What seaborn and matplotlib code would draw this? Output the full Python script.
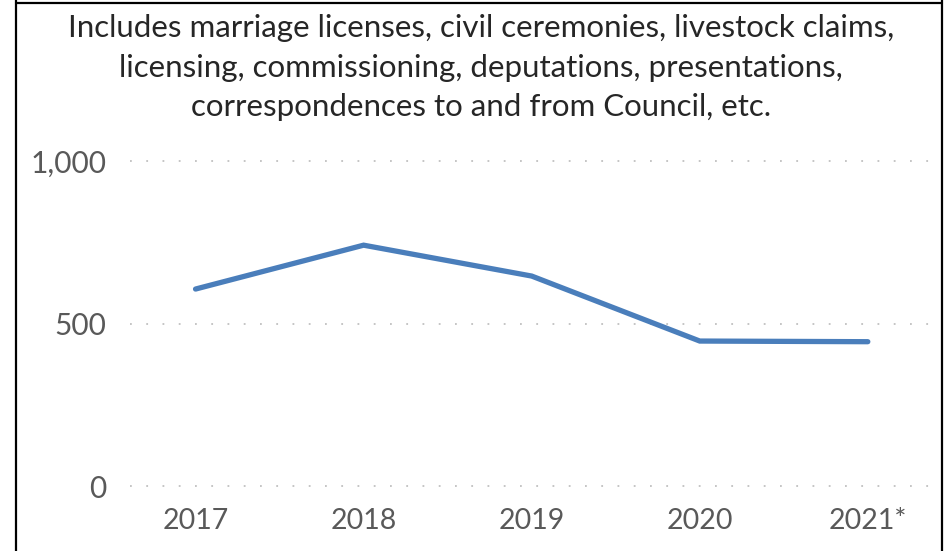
import matplotlib
matplotlib.use("Agg")
from matplotlib import pyplot as plt
from matplotlib.lines import Line2D
import pandas as pd
import seaborn as sns

# data
years = ["2017", "2018", "2019", "2020", "2021*"]
counts = [606, 741, 646, 446, 444]
yticks = [0, 500, 1000]
ytick_labels = ["0", "500", "1,000"]
title_lines = ["Includes marriage licenses, civil ceremonies, livestock claims,",
               "licensing, commissioning, deputations, presentations,",
               "correspondences to and from Council, etc."]

df = pd.DataFrame({"Year": years, "Count": counts})

sns.set_style("white")
plt.rcParams["font.family"] = ["Lato", "DejaVu Sans"]

fig = plt.figure(figsize=(9.49, 5.51), dpi=100)
ax = fig.add_axes([130 / 949, 1 - 486 / 551, 800 / 949, 325 / 551])

sns.lineplot(data=df, x="Year", y="Count", sort=False, color="#4a7ebb",
             linewidth=3.8, solid_capstyle="round", solid_joinstyle="miter", ax=ax)

ax.set_xlim(-0.39, 4.37)
ax.set_ylim(0, 1000)
ax.set_yticks(yticks)
ax.set_yticklabels(ytick_labels)
for y in yticks:
    ax.axhline(y, color="#c0c0c0", linewidth=1.3, linestyle=(0, (1, 8)), zorder=0,
               clip_on=False)
ax.tick_params(axis="both", length=0, labelcolor="#595959")
ax.tick_params(axis="y", pad=17, labelsize=21.5)
ax.tick_params(axis="x", pad=16, labelsize=20.5)
ax.set_xlabel("")
ax.set_ylabel("")
sns.despine(ax=ax, left=True, bottom=True)

for i, line in enumerate(title_lines):
    fig.text(481 / 949, 1 - (37 + 39.5 * i) / 551, line, ha="center", va="baseline",
             fontsize=22.5, color="#262626")

# outer chart frame (bottom edge is cropped off)
for xs, ys in [([16, 16], [0, 551]), ([942, 942], [0, 551]), ([16, 942], [548, 548])]:
    fig.add_artist(Line2D([x / 949 for x in xs], [y / 551 for y in ys],
                          color="black", linewidth=1.6))

fig.savefig("out.png", dpi=100)
